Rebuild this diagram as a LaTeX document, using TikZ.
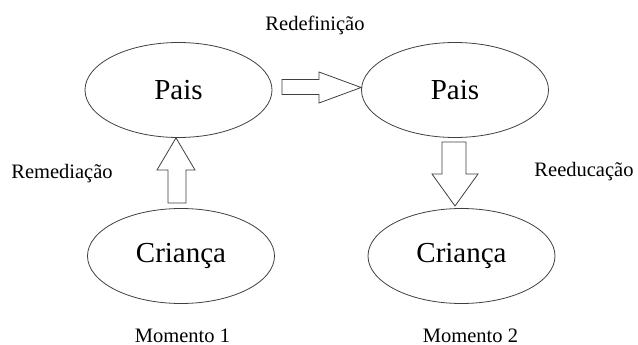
\documentclass[tikz,border=0pt]{standalone}
\usepackage{fontspec}
\setmainfont{Liberation Serif}
\usetikzlibrary{shapes.geometric}
\begin{document}
\begin{tikzpicture}[x=1pt,y=-1pt,
  oval/.style={draw=black!75, line width=0.8pt, ellipse, inner sep=0pt,
    minimum width=187pt, minimum height=95pt,
    font=\fontsize{29}{34}\selectfont},
  blockarrow/.style={draw=black!75, line width=0.8pt, fill=white, line join=miter},
  caption/.style={anchor=base, inner sep=0pt, font=\fontsize{20.5}{24}\selectfont}]
  \useasboundingbox (0,0) rectangle (638,345);
  \fill[white] (0,0) rectangle (638,345);

  % the four ovals
  \node[oval] (pais1) at (178.5,90) {Pais};
  \node[oval] (crianca1) at (181,256) {Criança};
  \node[oval] (pais2) at (455,90) {Pais};
  \node[oval] (crianca2) at (461.5,256) {Criança};

  % block arrows
  \draw[blockarrow] (282,79.5) -- (319,79.5) -- (319,72) -- (pais2.west |- 0,87.5)
    -- (319,103) -- (319,94.5) -- (282,94.5) -- cycle;
  \draw[blockarrow] (168,203) -- (168,170) -- (157,170) -- (pais1.south -| 176,0)
    -- (195,170) -- (186,170) -- (186,203) -- cycle;
  \draw[blockarrow] (442,142) -- (466,142) -- (466,174) -- (478,174) -- (455,206)
    -- (432,174) -- (442,174) -- cycle;

  % labels
  \node[caption] (redef) at (315,31) {Redefinição};
  \node[caption] (remed) at (62,178) {Remediação};
  \node[caption] (reeduc) at (584,176) {Reeducação};
  \node[caption] (mom1) at (182.5,342) {Momento 1};
  \node[caption] (mom2) at (470.5,342) {Momento 2};
\end{tikzpicture}
\end{document}
